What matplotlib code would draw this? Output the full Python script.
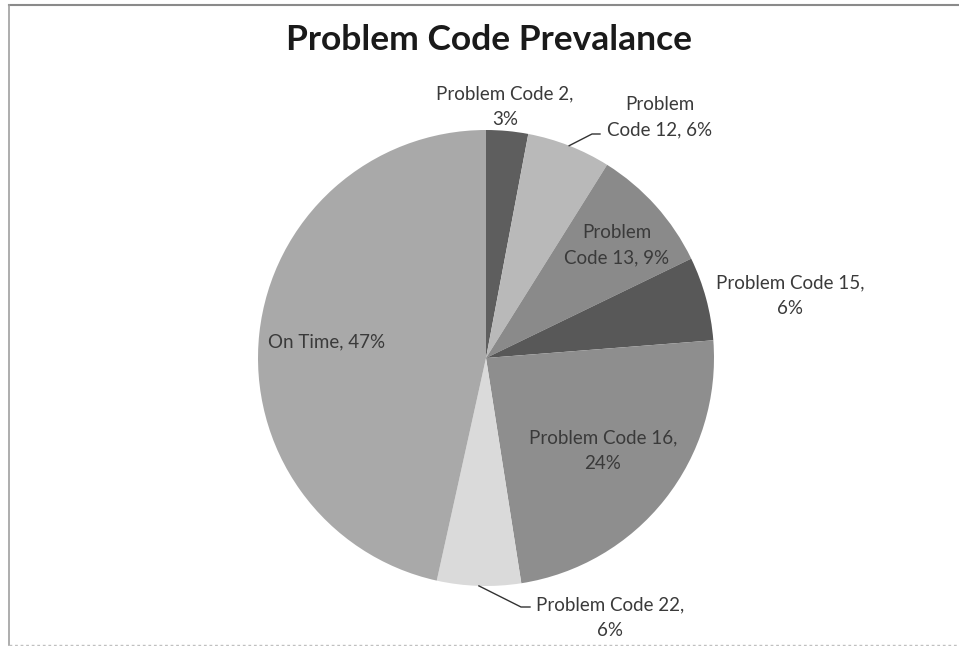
import numpy as np
import matplotlib
matplotlib.use('Agg')
import matplotlib.pyplot as plt
from matplotlib.lines import Line2D

# problem code shares (percent), clockwise from 12 o'clock
labels = ['Problem Code 2', 'Problem Code 12', 'Problem Code 13', 'Problem Code 15',
          'Problem Code 16', 'Problem Code 22', 'On Time']
shares = [3, 6, 9, 6, 24, 6, 47]
colors = ['#5e5e5e', '#b9b9b9', '#8a8a8a', '#585858', '#8e8e8e', '#dadada', '#a9a9a9']

W, H = 959, 646
fig = plt.figure(figsize=(W / 100, H / 100), dpi=100)
fig.patch.set_facecolor('white')

# pie centre and radius in pixels
cx, cy, r = 486, 358, 228
ax = fig.add_axes([(cx - r) / W, (H - cy - r) / H, 2 * r / W, 2 * r / H])
ax.pie(shares, colors=colors, startangle=90, counterclock=False, radius=1,
       wedgeprops=dict(linewidth=0))
ax.set_xlim(-1, 1)
ax.set_ylim(-1, 1)
ax.axis('off')

plt.rcParams['font.family'] = ['Lato', 'DejaVu Sans']
txt_col = '#3a3a3a'


def px(x, y):
    return x / W, 1 - y / H


fig.text(*px(489, 40), 'Problem Code Prevalance', ha='center', va='center',
         fontsize=25.5, fontweight='bold', color='#1a1a1a')

# label text (pixel position of the block centre)
label_pos = [(505, 107), (660, 117), (617, 245), (790, 296), (603, 451), (610, 618), (327, 342)]
label_txt = ['Problem Code 2,\n3%', 'Problem\nCode 12, 6%', 'Problem\nCode 13, 9%',
             'Problem Code 15,\n6%', 'Problem Code 16,\n24%', 'Problem Code 22,\n6%']
label_txt.append('On Time, %d%%' % shares[-1])
for (x, y), t in zip(label_pos, label_txt):
    fig.text(*px(x, y), t, ha='center', va='center', fontsize=13.5,
             color=txt_col, linespacing=1.64)

# leader lines from the wedge edge to the outside labels
total = float(sum(shares))
cum = np.cumsum([0] + shares)
for i, (kx, ky), end in [(1, (592, 134), (600, 134)), (5, (521, 607), (530, 607))]:
    mid = (cum[i] + cum[i + 1]) / 2 / total
    ang = np.deg2rad(90 - 360 * mid)
    ex, ey = cx + r * np.cos(ang), cy - r * np.sin(ang)
    xs = [ex, kx, end[0]]
    ys = [ey, ky, end[1]]
    fig.add_artist(Line2D([x / W for x in xs], [1 - y / H for y in ys],
                          color='#333333', lw=1.0))

# chart frame
fig.add_artist(Line2D([9 / W, 1], [1 - 5 / H, 1 - 5 / H], color='#8a8a8a', lw=1.5))
fig.add_artist(Line2D([9 / W, 9 / W], [1 - 5 / H, 1 - 645 / H], color='#a0a0a0', lw=1.2))
fig.add_artist(Line2D([9 / W, 1], [1 - 645 / H, 1 - 645 / H], color='#c0c0c0', lw=1.0,
                      linestyle=(0, (2, 2))))

fig.savefig('out.png', dpi=100, facecolor='white')
